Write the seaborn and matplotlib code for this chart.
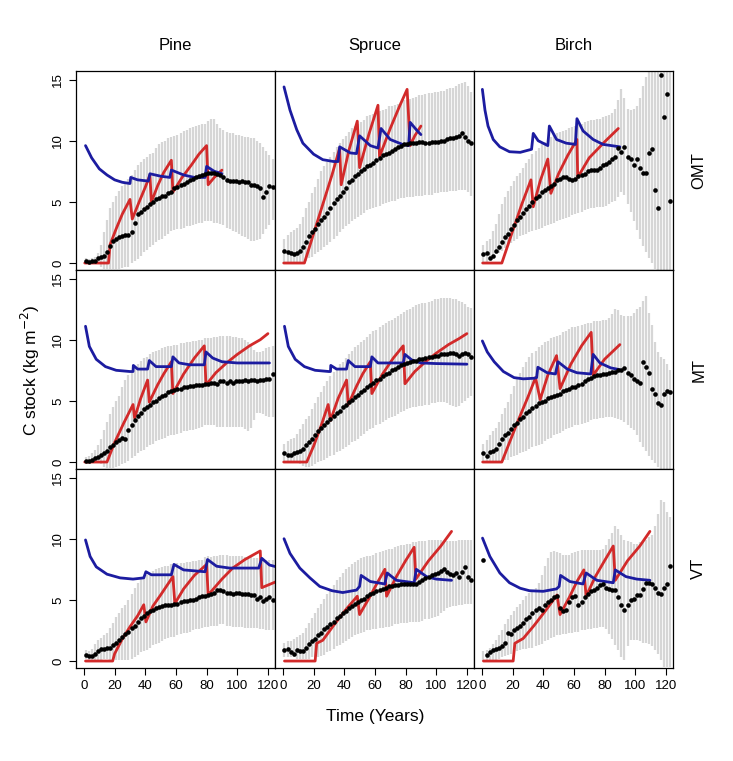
import numpy as np
import pandas as pd
import matplotlib
matplotlib.use("Agg")
import matplotlib.pyplot as plt
import seaborn as sns

SPECIES = ["Pine", "Spruce", "Birch"]
SITES = ["OMT", "MT", "VT"]
YEARS = list(range(1, 124, 2))

# observed mean C stock (black dots) and spread (grey bars), every 2nd year
PINE_OMT_MEAN = [0.2, 0.1, 0.2, 0.2, 0.4, 0.5, 0.6, 0.9, 1.4, 1.8, 2.0, 2.1, 2.2, 2.3, 2.3, 2.5, 3.3, 4.0, 4.2, 4.4, 4.6, 4.8, 5.0, 5.2, 5.3, 5.5, 5.5, 5.7, 5.8, 6.1, 6.2, 6.4, 6.5, 6.6, 6.8, 6.9, 7.0, 7.1, 7.2, 7.3, 7.4, 7.4, 7.4, 7.3, 7.2, 7.0, 6.8, 6.7, 6.7, 6.7, 6.6, 6.7, 6.6, 6.6, 6.4, 6.4, 6.3, 6.1, 5.4, 5.8, 6.3, 6.2]
PINE_OMT_LOW = [0.1, 0.0, 0.0, 0.0, 0.0, -0.3, -0.5, -0.5, -0.5, -0.5, -0.5, -0.5, -0.4, -0.3, -0.3, 0.0, 0.2, 0.3, 0.6, 0.9, 1.1, 1.3, 1.5, 1.7, 1.9, 2.0, 2.2, 2.4, 2.6, 2.7, 2.8, 2.8, 2.9, 3.0, 3.0, 3.1, 3.2, 3.3, 3.3, 3.4, 3.4, 3.4, 3.3, 3.3, 3.2, 3.1, 2.9, 2.8, 2.6, 2.5, 2.4, 2.2, 2.1, 2.0, 1.8, 1.8, 1.9, 2.0, 2.4, 2.8, 3.1, 3.5]
PINE_OMT_HIGH = [0.4, 0.3, 0.4, 0.5, 0.8, 1.5, 2.5, 3.5, 4.5, 5.0, 5.5, 5.9, 6.3, 6.6, 6.9, 7.2, 7.6, 8.0, 8.3, 8.5, 8.7, 8.9, 9.0, 9.4, 9.7, 9.9, 10.0, 10.2, 10.3, 10.4, 10.5, 10.6, 10.8, 10.9, 11.0, 11.1, 11.2, 11.3, 11.4, 11.4, 11.6, 11.8, 11.8, 11.4, 11.0, 10.9, 10.7, 10.6, 10.6, 10.5, 10.5, 10.4, 10.3, 10.3, 10.2, 10.2, 10.0, 9.8, 9.5, 9.2, 8.8, 8.5]

SPRUCE_OMT_MEAN = [1.0, 0.9, 0.8, 0.7, 0.8, 1.0, 1.3, 1.7, 2.2, 2.5, 2.8, 3.2, 3.5, 3.8, 4.1, 4.5, 4.9, 5.2, 5.5, 5.8, 6.1, 6.6, 6.8, 7.1, 7.3, 7.5, 7.7, 7.9, 8.0, 8.2, 8.4, 8.6, 8.8, 8.9, 9.0, 9.2, 9.3, 9.5, 9.6, 9.7, 9.7, 9.8, 9.8, 9.8, 9.9, 9.9, 9.8, 9.8, 9.9, 9.9, 9.9, 10.0, 10.0, 10.1, 10.2, 10.2, 10.3, 10.4, 10.6, 10.3, 10.0, 9.8]
SPRUCE_OMT_LOW = [0.0, 0.0, 0.0, 0.0, 0.0, 0.0, 0.1, 0.2, 0.4, 0.5, 0.7, 0.9, 1.1, 1.3, 1.5, 1.7, 2.0, 2.2, 2.5, 2.8, 3.0, 3.2, 3.4, 3.6, 3.8, 3.9, 4.1, 4.3, 4.4, 4.5, 4.6, 4.7, 4.8, 4.9, 5.0, 5.1, 5.1, 5.2, 5.3, 5.3, 5.4, 5.4, 5.4, 5.5, 5.5, 5.5, 5.6, 5.6, 5.6, 5.7, 5.7, 5.8, 5.8, 5.8, 5.9, 5.9, 5.9, 6.0, 6.0, 6.0, 5.8, 5.5]
SPRUCE_OMT_HIGH = [2.0, 2.3, 2.5, 2.7, 2.9, 3.2, 3.8, 4.5, 5.0, 5.7, 6.2, 6.9, 7.5, 7.9, 8.3, 8.7, 9.1, 9.5, 9.8, 10.1, 10.4, 10.7, 11.0, 11.2, 11.4, 11.5, 11.7, 12.0, 12.1, 12.2, 12.3, 12.4, 12.5, 12.6, 12.8, 12.8, 12.9, 13.0, 13.2, 13.3, 13.3, 13.4, 13.5, 13.6, 13.7, 13.7, 13.8, 13.9, 13.9, 14.0, 14.0, 14.1, 14.1, 14.2, 14.3, 14.3, 14.5, 14.6, 14.7, 14.8, 14.5, 14.0]

BIRCH_OMT_MEAN = [0.7, 0.8, 0.4, 0.6, 1.0, 1.3, 1.7, 2.1, 2.4, 2.8, 3.1, 3.5, 3.8, 4.1, 4.4, 4.7, 5.0, 5.3, 5.5, 5.8, 6.0, 6.1, 6.3, 6.5, 6.8, 6.9, 7.0, 7.0, 6.9, 6.8, 6.9, 7.1, 7.2, 7.3, 7.5, 7.6, 7.6, 7.6, 7.8, 8.0, 8.1, 8.3, 8.5, 8.7, 9.4, 9.1, 9.5, 8.7, 8.5, 8.0, 8.5, 7.8, 7.4, 7.4, 9.0, 9.3, 6.0, 4.5, 15.4, 11.9, 13.8, 5.1]
BIRCH_OMT_LOW = [0.0, 0.1, 0.3, 0.5, 0.7, 0.8, 1.0, 1.2, 1.4, 1.6, 1.8, 2.0, 2.2, 2.3, 2.4, 2.5, 2.6, 2.7, 2.8, 2.9, 3.0, 3.1, 3.2, 3.3, 3.4, 3.5, 3.6, 3.7, 3.8, 3.9, 4.0, 4.1, 4.2, 4.3, 4.4, 4.5, 4.5, 4.6, 4.6, 4.6, 4.7, 4.8, 5.0, 5.1, 5.4, 5.8, 5.6, 4.8, 4.2, 3.4, 2.7, 2.0, 1.4, 0.9, 0.4, 0.0, -0.5, -0.6, -0.6, -0.6, -0.6, -0.6]
BIRCH_OMT_HIGH = [1.5, 1.8, 2.0, 2.6, 3.2, 4.0, 4.8, 5.4, 5.9, 6.3, 6.7, 7.1, 7.4, 7.8, 8.2, 8.5, 8.9, 9.2, 9.4, 9.7, 9.9, 10.1, 10.3, 10.5, 10.6, 10.7, 10.8, 10.9, 11.0, 11.1, 11.2, 11.3, 11.4, 11.5, 11.6, 11.7, 11.7, 11.8, 11.8, 11.9, 12.0, 12.1, 12.3, 12.6, 13.3, 14.2, 13.5, 12.6, 12.5, 12.6, 12.8, 13.5, 14.5, 15.2, 16.0, 16.0, 16.0, 16.0, 16.0, 16.0, 16.0, 16.0]

PINE_MT_MEAN = [0.1, 0.1, 0.2, 0.3, 0.4, 0.6, 0.7, 0.9, 1.2, 1.4, 1.6, 1.8, 2.0, 1.9, 2.6, 3.0, 3.4, 3.8, 4.0, 4.3, 4.5, 4.7, 4.9, 5.0, 5.2, 5.4, 5.5, 5.7, 5.8, 5.9, 6.0, 6.0, 6.1, 6.1, 6.2, 6.2, 6.3, 6.3, 6.3, 6.4, 6.4, 6.5, 6.5, 6.4, 6.6, 6.6, 6.5, 6.6, 6.5, 6.6, 6.6, 6.6, 6.7, 6.6, 6.7, 6.7, 6.6, 6.7, 6.7, 6.8, 6.8, 7.2]
PINE_MT_LOW = [0.0, 0.0, 0.0, 0.0, 0.0, -0.2, -0.4, -0.5, -0.5, -0.5, -0.4, -0.3, -0.2, -0.1, 0.1, 0.3, 0.5, 0.7, 0.9, 1.0, 1.2, 1.4, 1.5, 1.7, 1.8, 1.9, 2.0, 2.1, 2.2, 2.2, 2.3, 2.4, 2.5, 2.5, 2.6, 2.6, 2.7, 2.8, 2.9, 3.0, 3.0, 3.0, 3.0, 2.9, 2.9, 2.9, 2.9, 2.9, 2.9, 2.9, 2.9, 2.9, 2.7, 2.5, 2.8, 3.4, 4.0, 4.0, 3.9, 3.8, 3.7, 3.7]
PINE_MT_HIGH = [0.4, 0.5, 0.7, 1.0, 1.4, 1.9, 2.6, 3.3, 3.9, 4.5, 5.0, 5.4, 6.1, 6.7, 7.1, 7.4, 7.7, 8.0, 8.3, 8.5, 8.6, 8.8, 9.0, 9.1, 9.2, 9.3, 9.4, 9.5, 9.5, 9.6, 9.6, 9.7, 9.7, 9.8, 9.8, 9.9, 9.9, 10.0, 10.0, 10.1, 10.1, 10.1, 10.2, 10.2, 10.3, 10.3, 10.3, 10.3, 10.2, 10.2, 10.1, 10.1, 10.0, 9.8, 9.5, 9.2, 9.0, 9.0, 9.1, 9.3, 9.4, 9.5]

SPRUCE_MT_MEAN = [0.7, 0.6, 0.6, 0.7, 0.8, 0.9, 1.1, 1.4, 1.6, 1.9, 2.2, 2.5, 2.8, 3.0, 3.3, 3.5, 3.8, 4.0, 4.2, 4.5, 4.7, 4.9, 5.1, 5.3, 5.5, 5.7, 5.9, 6.1, 6.3, 6.5, 6.7, 6.8, 7.0, 7.2, 7.3, 7.5, 7.6, 7.8, 7.9, 8.0, 8.1, 8.2, 8.3, 8.3, 8.4, 8.4, 8.5, 8.6, 8.6, 8.7, 8.7, 8.8, 8.8, 8.8, 8.9, 8.9, 8.8, 8.7, 8.8, 8.9, 8.8, 8.6]
SPRUCE_MT_LOW = [0.0, 0.0, 0.0, 0.0, 0.0, -0.2, -0.3, -0.4, -0.4, -0.3, -0.2, 0.0, 0.1, 0.2, 0.3, 0.5, 0.6, 0.8, 0.9, 1.1, 1.2, 1.4, 1.6, 1.7, 1.9, 2.1, 2.3, 2.5, 2.7, 2.8, 3.0, 3.1, 3.3, 3.4, 3.6, 3.7, 3.8, 3.9, 4.1, 4.2, 4.3, 4.4, 4.5, 4.5, 4.6, 4.6, 4.7, 4.7, 4.8, 4.8, 4.9, 4.9, 4.9, 4.8, 4.7, 4.6, 4.5, 4.6, 4.8, 5.0, 5.2, 5.4]
SPRUCE_MT_HIGH = [1.5, 1.7, 1.9, 2.0, 2.3, 2.7, 3.1, 3.5, 3.8, 4.3, 4.8, 5.3, 5.7, 6.2, 6.6, 7.0, 7.4, 7.7, 8.0, 8.2, 8.5, 8.8, 9.1, 9.4, 9.6, 9.8, 10.0, 10.2, 10.5, 10.7, 10.8, 11.0, 11.2, 11.4, 11.5, 11.6, 11.8, 11.9, 12.1, 12.3, 12.4, 12.5, 12.7, 12.8, 12.9, 13.0, 13.0, 13.1, 13.2, 13.3, 13.3, 13.4, 13.4, 13.4, 13.4, 13.3, 13.3, 13.2, 13.1, 12.9, 12.7, 12.6]

BIRCH_MT_MEAN = [0.7, 0.5, 0.8, 0.9, 1.1, 1.5, 1.9, 2.2, 2.4, 2.7, 3.0, 3.2, 3.5, 3.7, 4.0, 4.2, 4.4, 4.6, 4.8, 4.9, 5.0, 5.2, 5.3, 5.4, 5.5, 5.6, 5.8, 5.9, 6.0, 6.1, 6.1, 6.3, 6.4, 6.6, 6.8, 6.9, 7.0, 7.1, 7.1, 7.2, 7.2, 7.3, 7.4, 7.4, 7.5, 7.5, 7.7, 7.3, 7.1, 6.8, 6.6, 6.5, 8.2, 7.8, 7.3, 6.0, 5.6, 4.8, 4.7, 5.6, 5.8, 5.7]
BIRCH_MT_LOW = [0.0, 0.0, 0.0, 0.0, 0.1, 0.1, 0.1, 0.2, 0.2, 0.4, 0.5, 0.6, 0.7, 0.8, 0.9, 1.1, 1.2, 1.3, 1.4, 1.5, 1.7, 1.9, 2.0, 2.2, 2.3, 2.4, 2.5, 2.7, 2.8, 2.9, 3.0, 3.0, 3.1, 3.2, 3.3, 3.4, 3.5, 3.5, 3.6, 3.6, 3.7, 3.7, 3.7, 3.6, 3.5, 3.4, 3.3, 3.0, 2.8, 2.6, 2.2, 1.6, 1.2, 0.9, 0.5, 0.2, -0.1, -0.4, -0.6, -0.6, -0.6, -0.6]
BIRCH_MT_HIGH = [1.5, 1.8, 2.2, 2.5, 2.8, 3.3, 3.9, 4.4, 4.9, 5.6, 6.2, 6.8, 7.3, 7.8, 8.2, 8.6, 8.9, 9.1, 9.4, 9.6, 9.8, 9.9, 10.1, 10.2, 10.3, 10.4, 10.6, 10.7, 10.9, 11.0, 11.0, 11.1, 11.2, 11.3, 11.4, 11.4, 11.5, 11.5, 11.5, 11.6, 11.6, 11.8, 12.1, 12.5, 12.4, 12.0, 11.9, 11.9, 11.9, 12.2, 12.5, 12.7, 13.2, 13.6, 12.2, 11.2, 9.8, 9.0, 8.6, 8.4, 8.0, 7.5]

PINE_VT_MEAN = [0.5, 0.4, 0.4, 0.6, 0.8, 1.0, 1.0, 1.1, 1.1, 1.3, 1.5, 1.7, 2.0, 2.2, 2.4, 2.7, 2.9, 3.2, 3.5, 3.7, 3.9, 4.1, 4.2, 4.3, 4.4, 4.5, 4.6, 4.6, 4.6, 4.7, 4.7, 4.8, 4.9, 4.9, 5.0, 5.0, 5.1, 5.2, 5.3, 5.3, 5.4, 5.5, 5.6, 5.8, 5.8, 5.7, 5.6, 5.6, 5.5, 5.6, 5.6, 5.5, 5.5, 5.5, 5.4, 5.4, 5.1, 5.2, 4.9, 5.1, 5.2, 5.0]
PINE_VT_LOW = [0.2, 0.1, 0.1, 0.1, 0.1, 0.1, 0.2, 0.2, 0.1, 0.1, 0.1, 0.1, 0.1, 0.1, 0.1, 0.2, 0.3, 0.5, 0.7, 0.8, 0.9, 1.1, 1.3, 1.4, 1.5, 1.6, 1.8, 1.9, 2.0, 2.0, 2.1, 2.2, 2.3, 2.3, 2.4, 2.5, 2.6, 2.6, 2.7, 2.8, 2.8, 2.9, 2.9, 2.9, 3.0, 3.0, 2.9, 2.9, 2.8, 2.8, 2.8, 2.8, 2.7, 2.7, 2.7, 2.7, 2.7, 2.6, 2.6, 2.5, 2.5, 2.5]
PINE_VT_HIGH = [0.9, 0.8, 1.0, 1.4, 1.7, 1.9, 2.1, 2.3, 2.7, 3.1, 3.6, 3.9, 4.3, 4.6, 5.0, 5.5, 6.0, 6.4, 6.7, 6.9, 7.0, 7.2, 7.4, 7.5, 7.6, 7.7, 7.8, 7.8, 7.9, 7.9, 8.0, 8.0, 8.0, 8.1, 8.1, 8.2, 8.2, 8.3, 8.3, 8.5, 8.6, 8.5, 8.6, 8.6, 8.7, 8.7, 8.7, 8.6, 8.6, 8.6, 8.6, 8.6, 8.5, 8.5, 8.5, 8.4, 8.4, 8.4, 8.3, 8.3, 8.3, 8.3]

SPRUCE_VT_MEAN = [0.9, 1.0, 0.7, 0.6, 0.9, 0.8, 0.8, 1.1, 1.4, 1.6, 1.8, 2.1, 2.3, 2.6, 2.8, 3.0, 3.2, 3.5, 3.7, 3.9, 4.1, 4.3, 4.5, 4.7, 4.8, 5.0, 5.1, 5.3, 5.5, 5.6, 5.7, 5.8, 5.9, 6.0, 6.1, 6.1, 6.2, 6.2, 6.3, 6.3, 6.3, 6.3, 6.3, 6.3, 6.5, 6.6, 6.8, 6.9, 7.0, 7.1, 7.2, 7.4, 7.5, 7.3, 7.1, 7.0, 7.2, 6.9, 7.3, 7.7, 6.9, 6.6]
SPRUCE_VT_LOW = [0.3, 0.3, 0.3, 0.3, 0.2, 0.2, 0.2, 0.2, 0.2, 0.3, 0.3, 0.3, 0.4, 0.5, 0.7, 0.8, 1.0, 1.2, 1.3, 1.5, 1.6, 1.8, 2.0, 2.1, 2.2, 2.3, 2.4, 2.5, 2.5, 2.6, 2.6, 2.7, 2.7, 2.8, 2.8, 2.9, 3.0, 3.0, 3.1, 3.1, 3.1, 3.2, 3.2, 3.2, 3.2, 3.3, 3.4, 3.4, 3.5, 3.6, 3.7, 3.9, 4.1, 4.3, 4.4, 4.5, 4.5, 4.6, 4.6, 4.7, 4.7, 4.7]
SPRUCE_VT_HIGH = [1.5, 1.6, 1.6, 1.8, 2.0, 2.1, 2.3, 2.7, 3.1, 3.5, 3.9, 4.3, 4.7, 5.1, 5.5, 5.9, 6.2, 6.6, 6.9, 7.2, 7.5, 7.7, 7.9, 8.1, 8.3, 8.4, 8.5, 8.6, 8.6, 8.7, 8.8, 8.9, 9.0, 9.1, 9.2, 9.2, 9.3, 9.4, 9.5, 9.5, 9.6, 9.6, 9.7, 9.7, 9.8, 9.8, 9.8, 9.9, 9.9, 9.9, 9.9, 9.9, 9.8, 9.8, 9.8, 9.8, 9.8, 9.9, 9.9, 9.9, 9.9, 9.9]

BIRCH_VT_MEAN = [8.3, 0.5, 0.7, 0.9, 1.0, 1.1, 1.2, 1.5, 2.3, 2.2, 2.5, 2.7, 2.9, 3.1, 3.4, 3.6, 3.9, 4.2, 4.3, 4.2, 4.6, 4.8, 5.0, 5.2, 5.3, 4.3, 4.1, 4.2, 4.8, 5.2, 5.3, 4.6, 4.8, 5.2, 5.5, 5.7, 5.8, 6.0, 6.2, 6.3, 6.0, 5.9, 5.8, 5.8, 5.2, 4.6, 4.2, 4.6, 5.0, 5.1, 5.4, 5.4, 5.9, 6.4, 6.4, 6.3, 6.0, 5.6, 5.5, 6.0, 6.3, 7.8]
BIRCH_VT_LOW = [0.0, 0.0, 0.0, 0.1, 0.1, 0.2, 0.3, 0.4, 0.5, 0.6, 0.7, 0.8, 0.9, 1.0, 1.0, 1.1, 1.1, 1.2, 1.3, 1.4, 1.6, 1.7, 1.9, 2.0, 2.1, 2.1, 2.2, 2.2, 2.3, 2.3, 2.4, 2.4, 2.5, 2.5, 2.6, 2.6, 2.7, 2.7, 2.8, 2.8, 2.6, 2.2, 1.8, 1.3, 0.9, 0.3, 0.1, 1.2, 1.7, 1.7, 1.7, 1.6, 1.5, 1.5, 1.4, 1.2, 0.9, 0.6, 0.1, -0.5, -0.5, -0.5]
BIRCH_VT_HIGH = [0.8, 0.9, 1.1, 1.4, 1.7, 2.1, 2.5, 3.0, 3.4, 3.8, 4.1, 4.4, 4.7, 5.0, 5.3, 5.6, 5.8, 6.0, 6.4, 7.0, 7.8, 8.4, 8.9, 9.0, 8.9, 8.8, 8.7, 8.7, 8.7, 8.8, 8.9, 9.0, 9.1, 9.1, 9.1, 9.1, 9.1, 9.1, 9.1, 9.2, 9.5, 10.0, 10.5, 11.0, 10.8, 10.3, 9.9, 9.8, 9.7, 9.6, 9.6, 9.7, 9.8, 9.9, 10.1, 10.3, 11.0, 12.0, 13.2, 13.0, 12.2, 11.8]

# modelled C stock (red sawtooth) and second model curve (blue)
PINE_OMT_RED_X = [0.5, 16, 17, 21, 25, 30, 31.5, 36, 40, 43, 44, 48, 52, 57, 58, 64, 70, 75, 80, 81, 85, 90]
PINE_OMT_RED_Y = [0, 0, 1.5, 2.8, 4.0, 5.2, 3.6, 5.0, 6.2, 7.2, 5.0, 6.3, 7.4, 8.4, 5.8, 7.0, 8.0, 8.9, 9.6, 6.4, 7.0, 7.6]
PINE_OMT_BLUE_X = [1, 5, 10, 15, 20, 25, 30, 30.5, 35, 42, 43, 50, 56, 57, 65, 72, 79, 80, 85, 90]
PINE_OMT_BLUE_Y = [9.6, 8.6, 7.7, 7.2, 6.8, 6.6, 6.5, 7.0, 6.8, 6.7, 7.3, 7.1, 7.0, 7.6, 7.2, 7.0, 7.0, 7.9, 7.5, 7.3]

SPRUCE_OMT_RED_X = [0.5, 14, 20, 26, 32, 37, 38, 43, 48.5, 50, 56, 62, 63, 70, 76, 81, 83, 86, 90]
SPRUCE_OMT_RED_Y = [0, 0, 2.4, 4.8, 7.2, 9.4, 6.4, 9.2, 11.6, 7.8, 10.5, 12.9, 8.7, 11.0, 12.8, 14.2, 9.6, 10.4, 11.2]
SPRUCE_OMT_BLUE_X = [0.7, 4.6, 9, 13, 20, 26, 33, 36, 37, 44, 48, 50, 57, 62, 64, 70, 78, 82, 83, 87, 90]
SPRUCE_OMT_BLUE_Y = [14.4, 12.5, 10.9, 9.8, 8.9, 8.45, 8.3, 8.3, 9.5, 9.0, 8.95, 10.4, 9.6, 9.4, 11.0, 10.1, 9.7, 9.6, 11.5, 10.9, 10.5]

BIRCH_OMT_RED_X = [0.5, 13, 20, 26, 32, 33.5, 38, 43, 45, 50, 56, 62, 62.5, 70, 80, 89]
BIRCH_OMT_RED_Y = [0, 0, 2.6, 4.8, 6.8, 4.6, 6.7, 8.5, 5.7, 7.3, 8.8, 10.1, 7.0, 8.6, 9.9, 11.0]
BIRCH_OMT_BLUE_X = [0.3, 2, 4, 7.4, 11.7, 18, 25, 32.4, 33.5, 36.7, 43, 44, 48.7, 55, 61, 62, 66, 72.6, 79, 90]
BIRCH_OMT_BLUE_Y = [14.2, 12.5, 11.2, 10.1, 9.5, 9.1, 9.05, 9.3, 10.6, 10.0, 9.6, 11.2, 10.1, 9.8, 9.7, 11.8, 10.8, 10.1, 9.7, 9.5]

PINE_MT_RED_X = [0.5, 15, 20, 26, 32, 33, 37, 41.5, 42.6, 48, 52, 57, 58, 65, 72, 78.5, 79.6, 86, 93, 100, 108, 115, 120]
PINE_MT_RED_Y = [0, 0, 1.6, 3.2, 4.7, 3.6, 5.2, 6.7, 4.9, 6.3, 7.2, 8.2, 5.6, 7.2, 8.5, 9.5, 6.3, 7.3, 8.1, 8.8, 9.5, 10.0, 10.5]
PINE_MT_BLUE_X = [1, 3.5, 8, 14, 21, 30, 32, 32.2, 35, 41.5, 42.6, 47, 57, 58, 62, 69, 78.5, 79.6, 84, 90, 100, 121]
PINE_MT_BLUE_Y = [11.1, 9.45, 8.4, 7.8, 7.5, 7.4, 7.4, 7.9, 7.6, 7.6, 8.3, 7.8, 7.8, 8.6, 8.1, 7.95, 7.95, 9.0, 8.5, 8.2, 8.1, 8.1]

SPRUCE_MT_RED_X = [0.5, 15.5, 20, 25, 29.5, 31, 36, 41.5, 42.6, 48, 52, 57, 58, 65, 72, 78.5, 79.6, 86, 93, 100, 108, 115, 120]
SPRUCE_MT_RED_Y = [0, 0, 1.3, 3.0, 4.7, 3.4, 5.2, 6.7, 4.7, 6.2, 7.2, 8.2, 5.6, 7.2, 8.5, 9.5, 6.4, 7.4, 8.2, 8.9, 9.6, 10.1, 10.5]
SPRUCE_MT_BLUE_X = [1, 3.5, 8, 14, 21, 30, 31, 31.2, 35, 41.5, 42.6, 47, 57, 58, 62, 69, 78.5, 79.6, 84, 90, 100, 120]
SPRUCE_MT_BLUE_Y = [11.1, 9.45, 8.4, 7.8, 7.5, 7.4, 7.4, 7.9, 7.6, 7.6, 8.3, 7.8, 7.8, 8.6, 8.1, 8.1, 8.1, 8.8, 8.35, 8.1, 8.05, 8.0]

BIRCH_MT_RED_X = [0.5, 13, 18, 24, 30, 35, 38, 43, 48.7, 51, 58, 65, 71.3, 72.6, 80, 90]
BIRCH_MT_RED_Y = [0, 0, 1.6, 3.5, 5.3, 6.9, 5.1, 7.1, 8.7, 6.0, 8.0, 9.5, 10.6, 7.1, 8.4, 9.6]
BIRCH_MT_BLUE_X = [0.3, 3.5, 8, 14, 21, 27, 34, 35.7, 36.5, 42.6, 48, 49.6, 55.7, 62, 71, 72.6, 77, 84, 90]
BIRCH_MT_BLUE_Y = [9.9, 9.0, 8.2, 7.4, 6.9, 6.8, 6.85, 6.9, 7.75, 7.3, 7.2, 8.2, 7.6, 7.3, 7.2, 8.8, 8.1, 7.7, 7.55]

PINE_VT_RED_X = [1, 18.7, 20, 25, 30, 35, 39, 40.4, 45, 50, 58, 59.3, 65, 72, 80, 81, 90, 97, 105, 115, 116, 125.6]
PINE_VT_RED_Y = [0, 0, 0.6, 1.8, 2.8, 3.7, 4.6, 3.2, 4.5, 5.4, 6.9, 4.7, 5.9, 7.0, 7.9, 5.4, 6.7, 7.6, 8.3, 9.0, 6.0, 6.5]
PINE_VT_BLUE_X = [1, 4, 8, 15, 23.5, 32, 39, 40.4, 44, 57, 58.7, 65, 79, 80.6, 86.5, 95, 114, 116, 121, 125.6]
PINE_VT_BLUE_Y = [9.9, 8.55, 7.7, 7.1, 6.8, 6.7, 6.8, 7.3, 7.05, 7.05, 7.9, 7.45, 7.3, 8.3, 7.75, 7.6, 7.6, 8.4, 7.85, 7.7]

SPRUCE_VT_RED_X = [1, 21, 22, 26, 33, 41, 48.5, 50, 56, 62, 66.5, 67.6, 74, 80, 85.6, 86.7, 95, 103, 110]
SPRUCE_VT_RED_Y = [0, 0, 1.45, 1.7, 2.9, 4.2, 5.3, 3.8, 5.1, 6.5, 7.5, 5.3, 6.9, 8.2, 9.3, 6.7, 8.2, 9.4, 10.6]
SPRUCE_VT_BLUE_X = [0.7, 4.6, 11, 17.6, 24, 32, 39, 48, 50, 51, 57, 66.5, 68, 74, 85.6, 87, 93.7, 100, 110]
SPRUCE_VT_BLUE_Y = [10.0, 8.8, 7.6, 6.8, 6.1, 5.75, 5.6, 5.8, 6.1, 7.0, 6.5, 6.3, 7.2, 6.6, 6.4, 7.5, 6.9, 6.7, 6.6]

BIRCH_VT_RED_X = [1, 20.4, 21.5, 27, 34, 42, 49, 51, 57, 62, 66.5, 68, 74, 80, 85.7, 87, 95, 103, 109.6]
BIRCH_VT_RED_Y = [0, 0, 1.45, 1.85, 2.9, 4.2, 5.4, 3.8, 5.2, 6.5, 7.45, 5.3, 6.9, 8.2, 9.4, 6.6, 8.2, 9.4, 10.6]
BIRCH_VT_BLUE_X = [0.4, 5.2, 11.7, 18, 25, 31, 40, 48.7, 50.4, 51.3, 57.4, 66, 68, 75, 85.7, 87, 94, 101, 109.6]
BIRCH_VT_BLUE_Y = [10.05, 8.55, 7.2, 6.4, 5.95, 5.75, 5.7, 5.9, 6.1, 7.0, 6.5, 6.3, 7.2, 6.6, 6.4, 7.45, 6.9, 6.7, 6.6]

OBS = {
    ("Pine", "OMT"): (PINE_OMT_MEAN, PINE_OMT_LOW, PINE_OMT_HIGH),
    ("Spruce", "OMT"): (SPRUCE_OMT_MEAN, SPRUCE_OMT_LOW, SPRUCE_OMT_HIGH),
    ("Birch", "OMT"): (BIRCH_OMT_MEAN, BIRCH_OMT_LOW, BIRCH_OMT_HIGH),
    ("Pine", "MT"): (PINE_MT_MEAN, PINE_MT_LOW, PINE_MT_HIGH),
    ("Spruce", "MT"): (SPRUCE_MT_MEAN, SPRUCE_MT_LOW, SPRUCE_MT_HIGH),
    ("Birch", "MT"): (BIRCH_MT_MEAN, BIRCH_MT_LOW, BIRCH_MT_HIGH),
    ("Pine", "VT"): (PINE_VT_MEAN, PINE_VT_LOW, PINE_VT_HIGH),
    ("Spruce", "VT"): (SPRUCE_VT_MEAN, SPRUCE_VT_LOW, SPRUCE_VT_HIGH),
    ("Birch", "VT"): (BIRCH_VT_MEAN, BIRCH_VT_LOW, BIRCH_VT_HIGH),
}
MODEL = {
    ("Pine", "OMT"): (PINE_OMT_RED_X, PINE_OMT_RED_Y, PINE_OMT_BLUE_X, PINE_OMT_BLUE_Y),
    ("Spruce", "OMT"): (SPRUCE_OMT_RED_X, SPRUCE_OMT_RED_Y, SPRUCE_OMT_BLUE_X, SPRUCE_OMT_BLUE_Y),
    ("Birch", "OMT"): (BIRCH_OMT_RED_X, BIRCH_OMT_RED_Y, BIRCH_OMT_BLUE_X, BIRCH_OMT_BLUE_Y),
    ("Pine", "MT"): (PINE_MT_RED_X, PINE_MT_RED_Y, PINE_MT_BLUE_X, PINE_MT_BLUE_Y),
    ("Spruce", "MT"): (SPRUCE_MT_RED_X, SPRUCE_MT_RED_Y, SPRUCE_MT_BLUE_X, SPRUCE_MT_BLUE_Y),
    ("Birch", "MT"): (BIRCH_MT_RED_X, BIRCH_MT_RED_Y, BIRCH_MT_BLUE_X, BIRCH_MT_BLUE_Y),
    ("Pine", "VT"): (PINE_VT_RED_X, PINE_VT_RED_Y, PINE_VT_BLUE_X, PINE_VT_BLUE_Y),
    ("Spruce", "VT"): (SPRUCE_VT_RED_X, SPRUCE_VT_RED_Y, SPRUCE_VT_BLUE_X, SPRUCE_VT_BLUE_Y),
    ("Birch", "VT"): (BIRCH_VT_RED_X, BIRCH_VT_RED_Y, BIRCH_VT_BLUE_X, BIRCH_VT_BLUE_Y),
}

# long table for the facet grid
rows = []
for (sp, site), (mean, low, high) in OBS.items():
    for yr, m, lo, hi in zip(YEARS, mean, low, high):
        rows.append({"species": sp, "site": site, "year": yr, "mean": m, "low": lo, "high": hi})
df = pd.DataFrame(rows)

sns.set_style("ticks")
plt.rcParams["font.family"] = ["Liberation Sans", "DejaVu Sans"]
plt.rcParams["text.color"] = "black"
plt.rcParams["xtick.color"] = "black"
plt.rcParams["ytick.color"] = "black"

g = sns.FacetGrid(df, row="site", col="species", row_order=SITES, col_order=SPECIES,
                  sharex=True, sharey=True, despine=False, height=2.5, aspect=1.0)
g.figure.set_size_inches(7.33, 7.61)
g.map_dataframe(plt.vlines, "year", "low", "high", color="#d6d6d6", linewidth=1.6, zorder=1)
g.map_dataframe(sns.scatterplot, x="year", y="mean", color="black", s=11, linewidth=0, zorder=4)

for (site, sp), ax in g.axes_dict.items():
    rx, ry, bx, by = MODEL[(sp, site)]
    sns.lineplot(x=rx, y=ry, ax=ax, color="#d22a2a", linewidth=2.0, sort=False,
                 estimator=None, zorder=3)
    sns.lineplot(x=bx, y=by, ax=ax, color="#1c1ca0", linewidth=2.0, sort=False,
                 estimator=None, zorder=3)
    ax.set_xlim(-5.2, 124.6)
    ax.set_ylim(-0.57, 15.7)
    ax.set_xticks([0, 20, 40, 60, 80, 100, 120])
    ax.set_yticks([0, 5, 10, 15])
    ax.set_title("")
    ax.set_xlabel("")
    ax.set_ylabel("")
    for sp_ in ax.spines.values():
        sp_.set_color("black")
        sp_.set_linewidth(0.9)
    is_left = sp == SPECIES[0]
    is_bottom = site == SITES[-1]
    ax.tick_params(direction="out", length=5, width=0.8, labelsize=9.5,
                   left=is_left, labelleft=is_left, bottom=is_bottom, labelbottom=is_bottom)
    for lab in ax.get_yticklabels():
        lab.set_rotation(90)
        lab.set_va("center")

g.figure.subplots_adjust(left=0.1037, right=0.918, top=0.9067, bottom=0.1222,
                         wspace=0, hspace=0)

fig = g.figure
for j, sp in enumerate(SPECIES):
    ax = g.axes[0, j]
    ax.text(0.5, 1.0 + 26 / 199, sp, transform=ax.transAxes, ha="center", va="center",
            fontsize=12)
for i, site in enumerate(SITES):
    ax = g.axes[i, 2]
    ax.text(1.0 + 26 / 199, 0.5, site, transform=ax.transAxes, ha="center", va="center",
            rotation=90, fontsize=12)

fig.text(375 / 733, 1 - 716 / 761, "Time (Years)", ha="center", va="center", fontsize=12.5)
fig.text(30 / 733, 1 - 370 / 761, "C stock (kg m$^{-2}$)", ha="center", va="center",
         rotation=90, fontsize=12.5)

fig.savefig("out.png", dpi=100)
